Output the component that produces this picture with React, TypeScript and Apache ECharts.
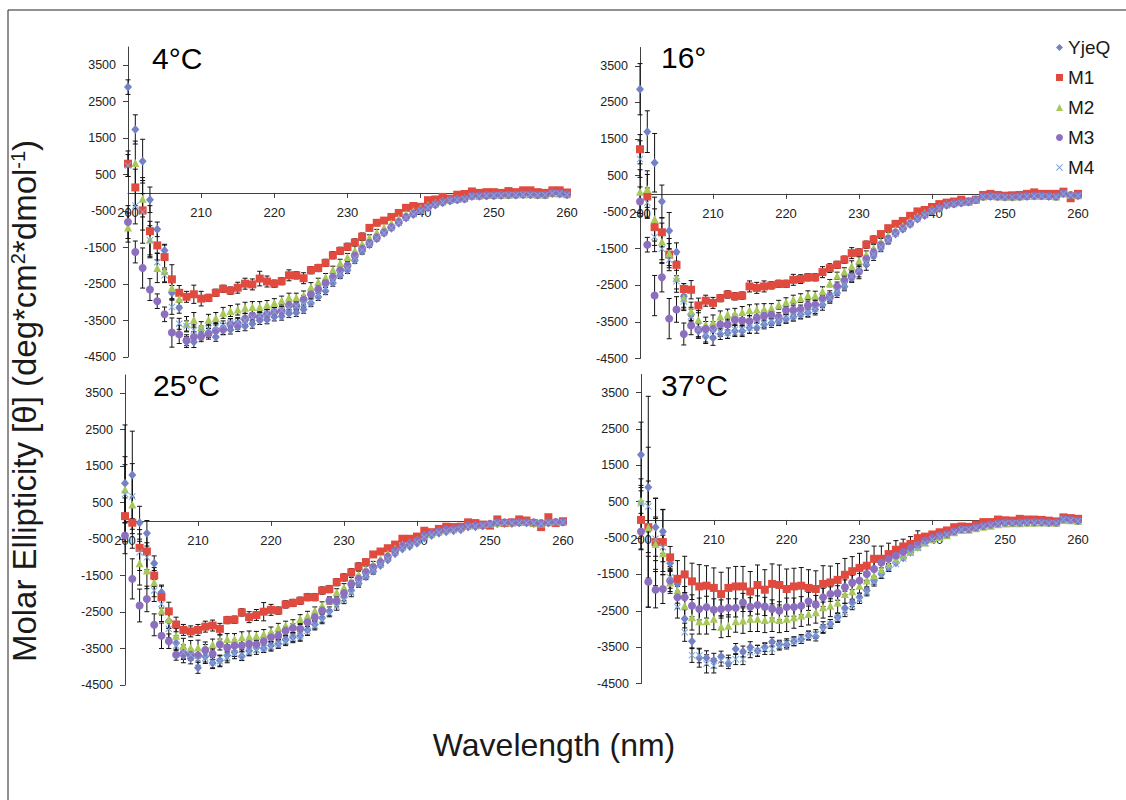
import React, { useEffect, useRef } from 'react';
import * as echarts from 'echarts';

// ---------- data ----------
const WL = [200, 201, 202, 203, 204, 205, 206, 207, 208, 209, 210, 211, 212, 213, 214, 215, 216, 217, 218, 219, 220,
  221, 222, 223, 224, 225, 226, 227, 228, 229, 230, 231, 232, 233, 234, 235, 236, 237, 238, 239, 240,
  241, 242, 243, 244, 245, 246, 247, 248, 249, 250, 251, 252, 253, 254, 255, 256, 257, 258, 259, 260];

const SERIES_NAMES = ['YjeQ', 'M1', 'M2', 'M3', 'M4'];
const PANEL_TITLES = ['4°C', '16°', '25°C', '37°C'];
const Y_TICKS = [-4500, -3500, -2500, -1500, -500, 500, 1500, 2500, 3500];
const Y_MIN = -4500;
const Y_MAX = 4000;

// 4 °C
const c4_YjeQ = [2900, 1740, 870, -190, -1000, -1580, -2740, -3150, -4090, -4090, -3910, -3840, -3950, -3770, -3750, -3680, -3660, -3590, -3500, -3480, -3400, -3380, -3310, -3290, -3200, -3020, -2850, -2690, -2470, -2260, -2120, -1850,
  -1600, -1420, -1260, -1110, -970, -830, -690, -590, -500, -410, -330, -270, -220, -190, -170, -100, -90, -80, -70, -70, -60, -60, -50, -50, -60, -60, -20, -30, -50];
const c4_M1 = [800, 150, -480, -1050, -1440, -1760, -2370, -2740, -2850, -2780, -2900, -2880, -2740, -2630, -2680, -2600, -2490, -2510, -2350, -2430, -2490, -2420, -2260, -2260, -2340, -2120, -2060, -1920, -1710, -1590, -1480, -1360,
  -1200, -960, -820, -760, -660, -550, -410, -360, -380, -200, -180, -110, -160, -50, -30, 40, 0, 20, 20, 0, 50, 20, 70, 70, 20, 0, 70, 70, 10];
const c4_M2 = [-950, 820, -160, -1280, -2060, -2140, -2600, -2900, -3590, -3480, -3680, -3480, -3430, -3290, -3240, -3200, -3150, -3130, -3130, -3070, -3020, -2950, -2870, -2870, -2810, -2580, -2440, -2310, -2110, -1920, -1760, -1580,
  -1400, -1230, -1080, -950, -830, -700, -580, -500, -420, -340, -270, -220, -180, -160, -140, -80, -70, -60, -60, -50, -50, -40, -40, -40, -50, -50, -10, -20, -40];
const c4_M3 = [-800, -1620, -2060, -2650, -2970, -3330, -3830, -3880, -4040, -3950, -3930, -3860, -3770, -3730, -3600, -3590, -3460, -3360, -3400, -3330, -3270, -3240, -3080, -3100, -2930, -2780, -2640, -2470, -2310, -2120, -1990, -1720,
  -1530, -1370, -1220, -1080, -940, -800, -660, -570, -480, -390, -310, -250, -200, -180, -160, -80, -80, -70, -70, -60, -50, -50, -40, -40, -50, -50, 0, -10, -40];
const c4_M4 = [750, -350, -520, -1300, -1900, -2260, -3130, -3590, -3660, -3770, -3770, -3720, -3680, -3630, -3570, -3540, -3500, -3420, -3370, -3310, -3260, -3220, -3150, -3100, -3040, -2970, -2790, -2610, -2400, -2220, -2060, -1790,
  -1570, -1400, -1240, -1100, -960, -820, -680, -580, -490, -400, -320, -260, -210, -190, -170, -90, -90, -80, -70, -70, -60, -60, -50, -50, -60, -60, -10, -20, -50];

// 16 °C
const c16_YjeQ = [2860, 1700, 850, -210, -1010, -1590, -2800, -3300, -3750, -3890, -3940, -3830, -3800, -3750, -3750, -3660, -3660, -3570, -3530, -3480, -3420, -3360, -3300, -3250, -3160, -3030, -2870, -2710, -2530, -2300, -2120, -1940,
  -1700, -1480, -1290, -1100, -970, -840, -690, -590, -470, -400, -310, -280, -250, -220, -170, -80, -70, -80, -90, -90, -80, -70, -60, -60, -70, -80, 0, -40, -50];
const c16_M1 = [1220, -70, -910, -1050, -1660, -1940, -2600, -2620, -3050, -2920, -2980, -2850, -2750, -2800, -2780, -2530, -2570, -2530, -2500, -2460, -2460, -2350, -2330, -2280, -2280, -2140, -2030, -1940, -1800, -1620, -1600, -1390, -1250, -1100,
  -940, -820, -740, -600, -480, -440, -360, -280, -240, -210, -160, -210, -160, -30, 0, -30, -50, -40, -30, 0, 40, 0, 0, 0, 60, -120, 0];
const c16_M2 = [60, 130, -690, -1300, -1620, -2300, -2850, -3210, -3440, -3570, -3510, -3350, -3300, -3280, -3230, -3180, -3160, -3150, -3120, -3030, -2960, -2890, -2850, -2770, -2780, -2660, -2440, -2240, -2120, -1980, -1820, -1660,
  -1480, -1300, -1130, -990, -870, -740, -610, -520, -420, -360, -280, -250, -220, -190, -150, -70, -60, -70, -80, -80, -70, -60, -50, -50, -60, -70, 10, -30, -40];
const c16_M3 = [-210, -1390, -2780, -2280, -3410, -3160, -3830, -3600, -3710, -3690, -3690, -3570, -3570, -3440, -3460, -3480, -3390, -3330, -3300, -3370, -3180, -3180, -3160, -3050, -3030, -2870, -2800, -2530, -2370, -2250, -2120, -1780,
  -1600, -1400, -1230, -1060, -940, -810, -670, -570, -460, -390, -300, -270, -240, -210, -160, -70, -60, -70, -80, -80, -70, -60, -50, -50, -60, -70, 20, -30, -40];
const c16_M4 = [950, -240, -1180, -1500, -1800, -2390, -2940, -3350, -3710, -3850, -3750, -3750, -3800, -3710, -3710, -3660, -3570, -3530, -3480, -3440, -3390, -3330, -3280, -3230, -3150, -2990, -2830, -2660, -2480, -2250, -2080, -1880,
  -1650, -1450, -1270, -1090, -960, -830, -690, -580, -470, -400, -310, -280, -250, -220, -170, -80, -70, -80, -90, -90, -80, -70, -60, -60, -70, -80, 0, -40, -50];

// 25 °C
const c25_YjeQ = [1030, 1260, -50, -340, -1160, -1960, -2750, -3350, -3690, -3770, -4030, -3720, -3900, -3830, -3690, -3600, -3710, -3560, -3470, -3490, -3420, -3370, -3260, -3190, -3150, -2990, -2840, -2660, -2480, -2260, -2090, -1910,
  -1720, -1530, -1380, -1220, -1070, -900, -770, -700, -610, -470, -400, -340, -300, -270, -240, -170, -160, -140, -110, -80, -70, -70, -50, -50, -70, -90, -60, -40, -40];
const c25_M1 = [130, -50, -740, -840, -1500, -2090, -2480, -2840, -2990, -3030, -2990, -2900, -2870, -2960, -2720, -2710, -2510, -2640, -2580, -2490, -2440, -2460, -2290, -2250, -2190, -2090, -2090, -1910, -1870, -1680, -1550, -1410, -1250,
  -1130, -920, -840, -750, -650, -490, -490, -430, -270, -310, -220, -160, -170, -160, -40, -60, -100, -130, 40, -60, -40, 40, 10, -60, -170, 100, -60, -10];
const c25_M2 = [860, 450, -1160, -1360, -1680, -2460, -2690, -3150, -3420, -3480, -3470, -3470, -3390, -3280, -3240, -3240, -3190, -3170, -3150, -3100, -3030, -2930, -2870, -2830, -2690, -2600, -2460, -2320, -2190, -1960, -1820, -1650,
  -1480, -1320, -1190, -1040, -900, -760, -650, -590, -520, -390, -330, -270, -230, -210, -180, -120, -110, -100, -80, -50, -40, -40, -30, -30, -50, -70, -40, -20, -20];
const c25_M3 = [-400, -1590, -2320, -2140, -2850, -3150, -3300, -3670, -3630, -3670, -3690, -3540, -3650, -3390, -3470, -3420, -3420, -3370, -3390, -3300, -3190, -3150, -3010, -2940, -2960, -2780, -2640, -2460, -2190, -2190, -1980, -1730,
  -1590, -1410, -1270, -1130, -980, -810, -690, -630, -540, -400, -340, -280, -240, -220, -190, -130, -130, -120, -80, -40, -40, -40, -40, -40, -40, -60, -40, -30, -30];
const c25_M4 = [740, 670, -860, -1000, -1910, -2280, -2960, -3420, -3600, -3670, -3810, -3760, -3880, -3850, -3740, -3630, -3670, -3580, -3540, -3480, -3450, -3370, -3300, -3220, -3150, -3010, -2870, -2720, -2530, -2350, -2170, -1980,
  -1680, -1500, -1350, -1200, -1040, -870, -740, -670, -580, -440, -380, -320, -280, -250, -220, -160, -150, -130, -100, -60, -60, -60, -50, -50, -60, -80, -50, -40, -40];

// 37 °C
const c37_YjeQ = [1790, 900, -200, -320, -1190, -1760, -2720, -3340, -3800, -3800, -3870, -3760, -3940, -3550, -3620, -3500, -3600, -3500, -3350, -3430, -3430, -3340, -3280, -3180, -3210, -2950, -2860, -2680, -2420, -2280, -2130, -1940,
  -1670, -1490, -1300, -1180, -1040, -890, -750, -620, -520, -450, -400, -320, -260, -250, -210, -170, -140, -100, -80, -80, -80, -70, -70, -70, -80, -80, 20, 0, -20];
const c37_M1 = [0, -200, -610, -610, -1030, -1620, -1500, -1690, -1830, -1810, -1870, -2040, -1870, -1830, -1830, -1970, -1790, -1920, -1760, -1790, -1900, -1830, -1810, -1870, -1900, -1760, -1720, -1650, -1510, -1410,
  -1320, -1260, -1070, -1070, -940, -820, -730, -660, -500, -460, -400, -340, -290, -200, -180, -190, -130, -60, -60, 10, -10, -20, 30, 10, 10, 0, -20, -40, 70, 50, 30];
const c37_M2 = [530, -200, -660, -920, -1720, -1940, -2360, -2680, -2790, -2790, -2720, -2940, -2910, -2790, -2770, -2720, -2720, -2750, -2720, -2750, -2720, -2680, -2630, -2590, -2540, -2400, -2360, -2270, -2040, -1960, -1810, -1670,
  -1530, -1370, -1220, -1100, -980, -860, -740, -620, -530, -470, -420, -340, -280, -270, -230, -190, -160, -120, -100, -90, -90, -80, -80, -70, -70, -80, 0, -10, -30];
const c37_M3 = [-320, -1700, -1920, -1900, -1670, -2130, -2130, -2360, -2450, -2400, -2470, -2450, -2420, -2420, -2270, -2390, -2340, -2380, -2450, -2500, -2400, -2400, -2360, -2240, -2330, -2130, -2040, -2010, -1850, -1720, -1670, -1490,
  -1350, -1170, -1070, -980, -880, -770, -680, -570, -500, -430, -390, -310, -250, -250, -200, -160, -130, -90, -70, -70, -70, -60, -60, -60, -70, -70, 30, 10, -20];
const c37_M4 = [450, 370, -520, -750, -1580, -2400, -3090, -3720, -3730, -3960, -4010, -3870, -3870, -3830, -3830, -3640, -3600, -3550, -3550, -3460, -3390, -3340, -3280, -3180, -3140, -3000, -2860, -2700, -2540, -2370, -2200, -1990,
  -1720, -1530, -1340, -1210, -1060, -910, -770, -640, -540, -460, -410, -330, -270, -260, -220, -180, -150, -110, -90, -90, -90, -80, -80, -80, -90, -90, 10, -10, -30];

// error bars (standard deviation), from 200 nm onward; beyond the listed range bars are hidden by markers
const e4_YjeQ = [200, 400, 600, 350, 200, 150, 200, 150, 150, 150, 120, 120, 120, 120, 120, 120, 120, 120, 110, 110, 110, 110, 110, 100, 100, 100, 100, 100, 90, 90, 90, 80, 80, 70, 60];
const e4_M1 = [350, 500, 900, 700, 400, 350, 400, 200, 150, 250, 200, 100, 100, 100, 100, 150, 150, 150, 200, 150, 100, 100, 150, 100, 150, 100, 100, 100, 100, 100, 100, 100, 100, 80, 80];
const e4_M2 = [400, 600, 500, 500, 400, 300, 300, 200, 200, 200, 150, 150, 150, 150, 150, 150, 150, 150, 150, 120, 120, 120, 120, 120, 120, 120, 100, 100, 100, 100, 100, 150, 100, 80, 80];
const e4_M3 = [450, 300, 550, 300, 200, 200, 400, 250, 150, 150, 150, 150, 150, 150, 150, 150, 150, 150, 130, 130, 130, 130, 130, 120, 120, 120, 120, 100, 100, 100, 100, 100, 100, 80, 80];
const e4_M4 = [300, 500, 500, 400, 250, 200, 200, 150, 150, 150, 120, 120, 120, 120, 120, 120, 120, 120, 110, 110, 110, 110, 110, 100, 100, 100, 100, 100, 90, 90, 90, 80, 80, 70, 60];

const e16_YjeQ = [700, 570, 800, 450, 500, 250, 300, 200, 200, 200, 200, 150, 150, 150, 150, 150, 150, 120, 120, 120, 120, 120, 120, 120, 150, 150, 120, 120, 120, 120, 200, 150, 120, 100, 80];
const e16_M1 = [400, 600, 500, 400, 300, 300, 150, 250, 200, 150, 150, 100, 100, 100, 100, 150, 150, 150, 100, 100, 100, 150, 120, 100, 100, 150, 120, 100, 100, 150, 100, 100, 100, 80, 80];
const e16_M2 = [600, 500, 600, 500, 400, 300, 300, 250, 250, 200, 200, 150, 150, 150, 150, 150, 150, 150, 120, 120, 120, 120, 120, 120, 120, 120, 100, 100, 100, 150, 100, 100, 100, 80, 80];
const e16_M3 = [400, 200, 550, 400, 550, 350, 300, 250, 200, 200, 200, 150, 150, 150, 150, 150, 150, 150, 120, 120, 120, 120, 120, 120, 120, 150, 150, 120, 120, 150, 150, 100, 100, 80, 80];
const e16_M4 = [500, 400, 400, 400, 300, 300, 250, 200, 200, 200, 150, 150, 150, 150, 150, 150, 150, 120, 120, 120, 120, 120, 120, 120, 120, 120, 120, 120, 120, 100, 100, 100, 100, 80, 80];

const e25_YjeQ = [1600, 1200, 450, 350, 200, 200, 200, 200, 200, 150, 150, 150, 150, 150, 150, 120, 120, 120, 120, 120, 120, 120, 120, 120, 150, 150, 120, 120, 120, 100, 100, 100, 100, 80, 80];
const e25_M1 = [500, 700, 500, 500, 300, 300, 250, 200, 150, 150, 150, 150, 150, 150, 100, 100, 100, 150, 150, 250, 150, 100, 100, 100, 100, 100, 100, 100, 100, 100, 100, 100, 100, 80, 80];
const e25_M2 = [900, 800, 600, 500, 400, 300, 250, 200, 200, 200, 200, 150, 150, 150, 150, 150, 150, 150, 120, 120, 120, 120, 120, 120, 120, 120, 100, 100, 100, 100, 100, 100, 100, 80, 80];
const e25_M3 = [500, 550, 450, 350, 300, 350, 200, 150, 150, 150, 150, 150, 150, 150, 150, 150, 150, 150, 120, 120, 120, 120, 120, 120, 120, 120, 100, 100, 100, 100, 100, 100, 100, 80, 80];
const e25_M4 = [800, 900, 500, 400, 300, 300, 250, 200, 200, 150, 150, 150, 150, 150, 150, 150, 150, 120, 120, 120, 120, 120, 120, 120, 120, 120, 120, 100, 100, 100, 100, 100, 100, 80, 80];

const e37_YjeQ = [900, 2500, 800, 600, 200, 200, 250, 200, 250, 200, 200, 150, 150, 150, 150, 150, 150, 120, 120, 120, 120, 120, 120, 120, 120, 150, 120, 120, 120, 100, 100, 100, 100, 100, 100];
const e37_M1 = [800, 2200, 1200, 900, 300, 500, 500, 500, 600, 550, 550, 600, 550, 550, 550, 550, 550, 550, 550, 550, 550, 500, 500, 500, 500, 500, 450, 450, 450, 400, 400, 400, 350, 350, 300, 250, 200, 200, 200];
const e37_M2 = [600, 700, 700, 500, 300, 350, 350, 350, 350, 350, 300, 300, 300, 300, 350, 350, 350, 350, 350, 350, 350, 300, 300, 300, 300, 300, 300, 300, 250, 250, 200, 200, 200, 150, 150];
const e37_M3 = [500, 700, 500, 400, 300, 300, 300, 300, 300, 300, 300, 250, 250, 250, 250, 250, 250, 250, 250, 250, 250, 250, 250, 250, 250, 250, 200, 200, 200, 200, 200, 200, 200, 150, 150];
const e37_M4 = [500, 700, 600, 400, 300, 300, 250, 200, 200, 250, 200, 150, 150, 150, 150, 150, 150, 150, 150, 120, 120, 120, 120, 120, 120, 120, 120, 120, 120, 100, 100, 100, 100, 80, 80];

// ---------- styling ----------
const X_PATH = 'path://M1,0L5,4L9,0L10,1L6,5L10,9L9,10L5,6L1,10L0,9L4,5L0,1Z';
const COLORS = ['#7382C6', '#E04A3F', '#A8C85A', '#8C6FBF', '#7FA6D8'];
const SYMBOLS = ['diamond', 'rect', 'triangle', 'circle', X_PATH];
const SIZES: any[] = [[8, 9], 8, 8, 8, 7];
const GRIDS = [
  { left: 128, top: 47, width: 439, height: 310 },
  { left: 640, top: 47.5, width: 438, height: 311 },
  { left: 125, top: 375, width: 438, height: 310 },
  { left: 641, top: 374.5, width: 437, height: 309 },
];
const TITLE_POS = [[152, 43], [661, 42], [153, 370], [661, 370]];
const FONT = '"Liberation Sans", Arial, sans-serif';
const AXIS_COLOR = '#404040';

export default function App() {
  const ref = useRef<HTMLDivElement>(null);
  useEffect(() => {
    const chart = echarts.init(ref.current as HTMLDivElement, null, { renderer: 'svg' });
    const panelValues = [
      [c4_YjeQ, c4_M1, c4_M2, c4_M3, c4_M4],
      [c16_YjeQ, c16_M1, c16_M2, c16_M3, c16_M4],
      [c25_YjeQ, c25_M1, c25_M2, c25_M3, c25_M4],
      [c37_YjeQ, c37_M1, c37_M2, c37_M3, c37_M4],
    ];
    const panelErrors = [
      [e4_YjeQ, e4_M1, e4_M2, e4_M3, e4_M4],
      [e16_YjeQ, e16_M1, e16_M2, e16_M3, e16_M4],
      [e25_YjeQ, e25_M1, e25_M2, e25_M3, e25_M4],
      [e37_YjeQ, e37_M1, e37_M2, e37_M3, e37_M4],
    ];

    const renderErr = (params: any, api: any) => {
      const x = api.value(0);
      const y = api.value(1);
      const e = api.value(2);
      const top = api.coord([x, y + e]);
      const bot = api.coord([x, y - e]);
      const w = 2.5;
      const st = { stroke: '#111', lineWidth: 1 };
      return {
        type: 'group',
        children: [
          { type: 'line', shape: { x1: top[0], y1: top[1], x2: bot[0], y2: bot[1] }, style: st },
          { type: 'line', shape: { x1: top[0] - w, y1: top[1], x2: top[0] + w, y2: top[1] }, style: st },
          { type: 'line', shape: { x1: bot[0] - w, y1: bot[1], x2: bot[0] + w, y2: bot[1] }, style: st },
        ],
      };
    };

    const series: any[] = [];
    panelValues.forEach((vals, p) => {
      vals.forEach((arr, s) => {
        series.push({
          type: 'scatter',
          name: SERIES_NAMES[s],
          xAxisIndex: p,
          yAxisIndex: p,
          data: WL.map((w, i) => [w, arr[i]]),
          symbol: SYMBOLS[s],
          symbolSize: SIZES[s],
          itemStyle: { color: COLORS[s], opacity: 1 },
          z: 3 + s,
          silent: true,
        });
      });
    });
    panelValues.forEach((vals, p) => {
      vals.forEach((arr, s) => {
        const errs = panelErrors[p][s];
        series.push({
          type: 'custom',
          name: SERIES_NAMES[s],
          xAxisIndex: p,
          yAxisIndex: p,
          renderItem: renderErr,
          data: errs.map((e, i) => [WL[i], arr[i], e]),
          encode: { x: 0, y: 1 },
          z: 2,
          silent: true,
        });
      });
    });

    // x axis sits on the zero line: shift it up from the grid bottom by the zero's distance
    const xAxis = GRIDS.map((g, p) => ({
      type: 'value',
      gridIndex: p,
      position: 'bottom',
      offset: -((0 - Y_MIN) / (Y_MAX - Y_MIN)) * g.height,
      min: 200,
      max: 260,
      interval: 10,
      axisLine: { show: true, onZero: false, lineStyle: { color: AXIS_COLOR, width: 1 } },
      axisTick: { show: true, length: 5, lineStyle: { color: AXIS_COLOR } },
      axisLabel: { fontSize: 13, color: '#222', margin: 13, fontFamily: FONT, formatter: (v: number) => String(v) },
      splitLine: { show: false },
    }));
    const yAxis = GRIDS.map((g, p) => ({
      type: 'value',
      gridIndex: p,
      min: Y_MIN,
      max: Y_MAX,
      axisLine: { show: true, onZero: false, lineStyle: { color: AXIS_COLOR, width: 1 } },
      axisTick: { show: true, length: 5, customValues: Y_TICKS, lineStyle: { color: AXIS_COLOR } },
      axisLabel: { customValues: Y_TICKS, fontSize: 12.5, color: '#222', margin: 12, fontFamily: FONT, formatter: (v: number) => String(v) },
      splitLine: { show: false },
    }));

    const graphic: any[] = [
      { type: 'line', shape: { x1: 8, y1: 10, x2: 8, y2: 800 }, style: { stroke: '#222', lineWidth: 1 } },
      { type: 'line', shape: { x1: 8, y1: 10, x2: 1126, y2: 10 }, style: { stroke: '#222', lineWidth: 1 } },
      {
        type: 'text', x: 554, y: 745,
        style: { text: 'Wavelength (nm)', fontSize: 32, fontFamily: FONT, fill: '#1a1a1a', align: 'center', verticalAlign: 'middle' },
      },
      {
        type: 'text', x: 24, y: 401, rotation: Math.PI / 2,
        style: {
          text: 'Molar Ellipticity [θ] (deg*cm{s|2}*dmol{s|-1})',
          fontSize: 33, fontFamily: FONT, fill: '#1a1a1a', align: 'center', verticalAlign: 'middle',
          rich: { s: { fontSize: 20, fontFamily: FONT, fill: '#1a1a1a', verticalAlign: 'top' } },
        },
      },
    ];
    PANEL_TITLES.forEach((t, p) => {
      graphic.push({
        type: 'text', x: TITLE_POS[p][0], y: TITLE_POS[p][1],
        style: { text: t, fontSize: 30, fontFamily: FONT, fill: '#000', align: 'left', verticalAlign: 'top' },
      });
    });

    chart.setOption({
      animation: false,
      backgroundColor: '#fff',
      grid: GRIDS.map((g) => ({ ...g, containLabel: false })),
      xAxis,
      yAxis,
      legend: {
        data: SERIES_NAMES,
        orient: 'vertical',
        left: 1051,
        top: 33,
        itemWidth: 7,
        itemHeight: 7,
        itemGap: 11,
        textStyle: { fontSize: 19, color: '#1a1a1a', fontFamily: FONT },
      },
      graphic,
      series,
    });
    return () => chart.dispose();
  }, []);
  return <div ref={ref} style={{ position: 'absolute', left: 0, top: 0, width: 1126, height: 800, background: '#fff' }} />;
}
